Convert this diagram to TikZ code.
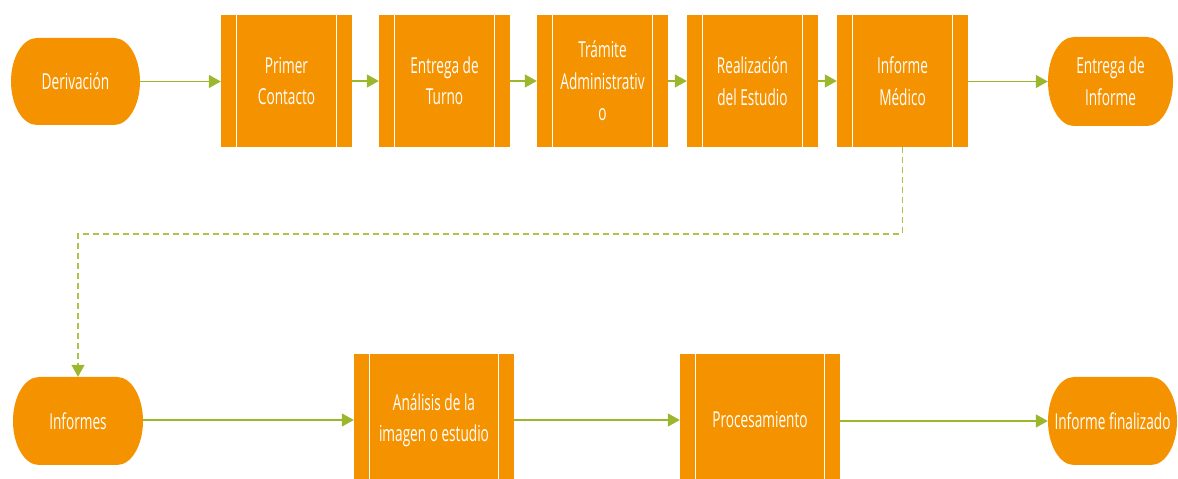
\documentclass[tikz,border=0pt]{standalone}
\usepackage{fontspec}
\setmainfont{Open Sans}[FakeStretch=0.62]
\usetikzlibrary{arrows.meta}
\definecolor{boxorange}{RGB}{245,146,0}
\definecolor{arrowgreen}{RGB}{155,183,44}
\definecolor{dashgreen}{RGB}{172,196,72}
\begin{document}
\begin{tikzpicture}[x=1pt,y=1pt,
  lbl/.style={text=white, align=center, font=\fontsize{22}{31.5}\selectfont, inner sep=0pt},
  procbox/.style={lbl, minimum height=132pt, minimum width=#1, fill=boxorange,
    path picture={
      \draw[white, line width=1pt] ([xshift=15.5pt]path picture bounding box.north west) -- ([xshift=15.5pt]path picture bounding box.south west);
      \draw[white, line width=1pt] ([xshift=-15.5pt]path picture bounding box.north east) -- ([xshift=-15.5pt]path picture bounding box.south east);
    }},
  procbox/.default=131pt,
  stadium/.style 2 args={lbl, minimum width=#1, minimum height=#2,
    path picture={
      \fill[boxorange] ([xshift=26pt]path picture bounding box.north west) -- ([xshift=-26pt]path picture bounding box.north east)
        arc[start angle=90, end angle=-90, x radius=26pt, y radius=#2/2]
        -- ([xshift=26pt]path picture bounding box.south west)
        arc[start angle=270, end angle=90, x radius=26pt, y radius=#2/2] -- cycle;
    }},
  flow/.style={draw=arrowgreen, line width=1.5pt, -{Triangle[length=12pt,width=13pt]}},
  dflow/.style={draw=dashgreen, line width=1.5pt, dash pattern=on 6pt off 4pt, -{Triangle[length=12pt,width=13pt,fill=arrowgreen,color=arrowgreen]}}
]
\useasboundingbox (0,0) rectangle (1178,479);
\clip (0,0) rectangle (1178,479);

% top row
\node[stadium={129pt}{87pt}] (der) at (75.5,397.5) {Derivación};
\node[procbox] (pc) at (286.5,398) {Primer\\Contacto};
\node[procbox] (et) at (444.5,398) {Entrega de\\Turno};
\node[procbox] (ta) at (602.5,398) {Trámite\\Administrativ\\o};
\node[procbox] (re) at (752.5,398) {Realización\\del Estudio};
\node[procbox] (im) at (902.5,398) {Informe\\Médico};
\node[stadium={125pt}{89pt}] (ei) at (1110.5,397.5) {Entrega de\\Informe};

% bottom row
\node[stadium={130pt}{88pt}] (inf) at (78,58) {Informes};
\node[procbox=160pt] (an) at (434,59) {Análisis de la\\imagen o estudio};
\node[procbox=160pt] (pr) at (760,59) {Procesamiento};
\node[stadium={129pt}{88pt}] (fin) at (1112.5,58) {Informe finalizado};

\draw[flow] (der.east) -- (der.east -| pc.west);
\draw[flow] (pc) -- (et);
\draw[flow] (et) -- (ta);
\draw[flow] (ta) -- (re);
\draw[flow] (re) -- (im);
\draw[flow] (im.east |- ei.west) -- (ei.west);

\draw[flow] (inf.east |- an.west) -- (an.west);
\draw[flow] (an) -- (pr);
\draw[flow] (pr.east |- fin.west) -- (fin.west);

\coordinate (bend) at (78,245);
\draw[dflow] (im.south) -- (im.south |- bend) -- (bend) -- (inf.north);
\end{tikzpicture}
\end{document}
